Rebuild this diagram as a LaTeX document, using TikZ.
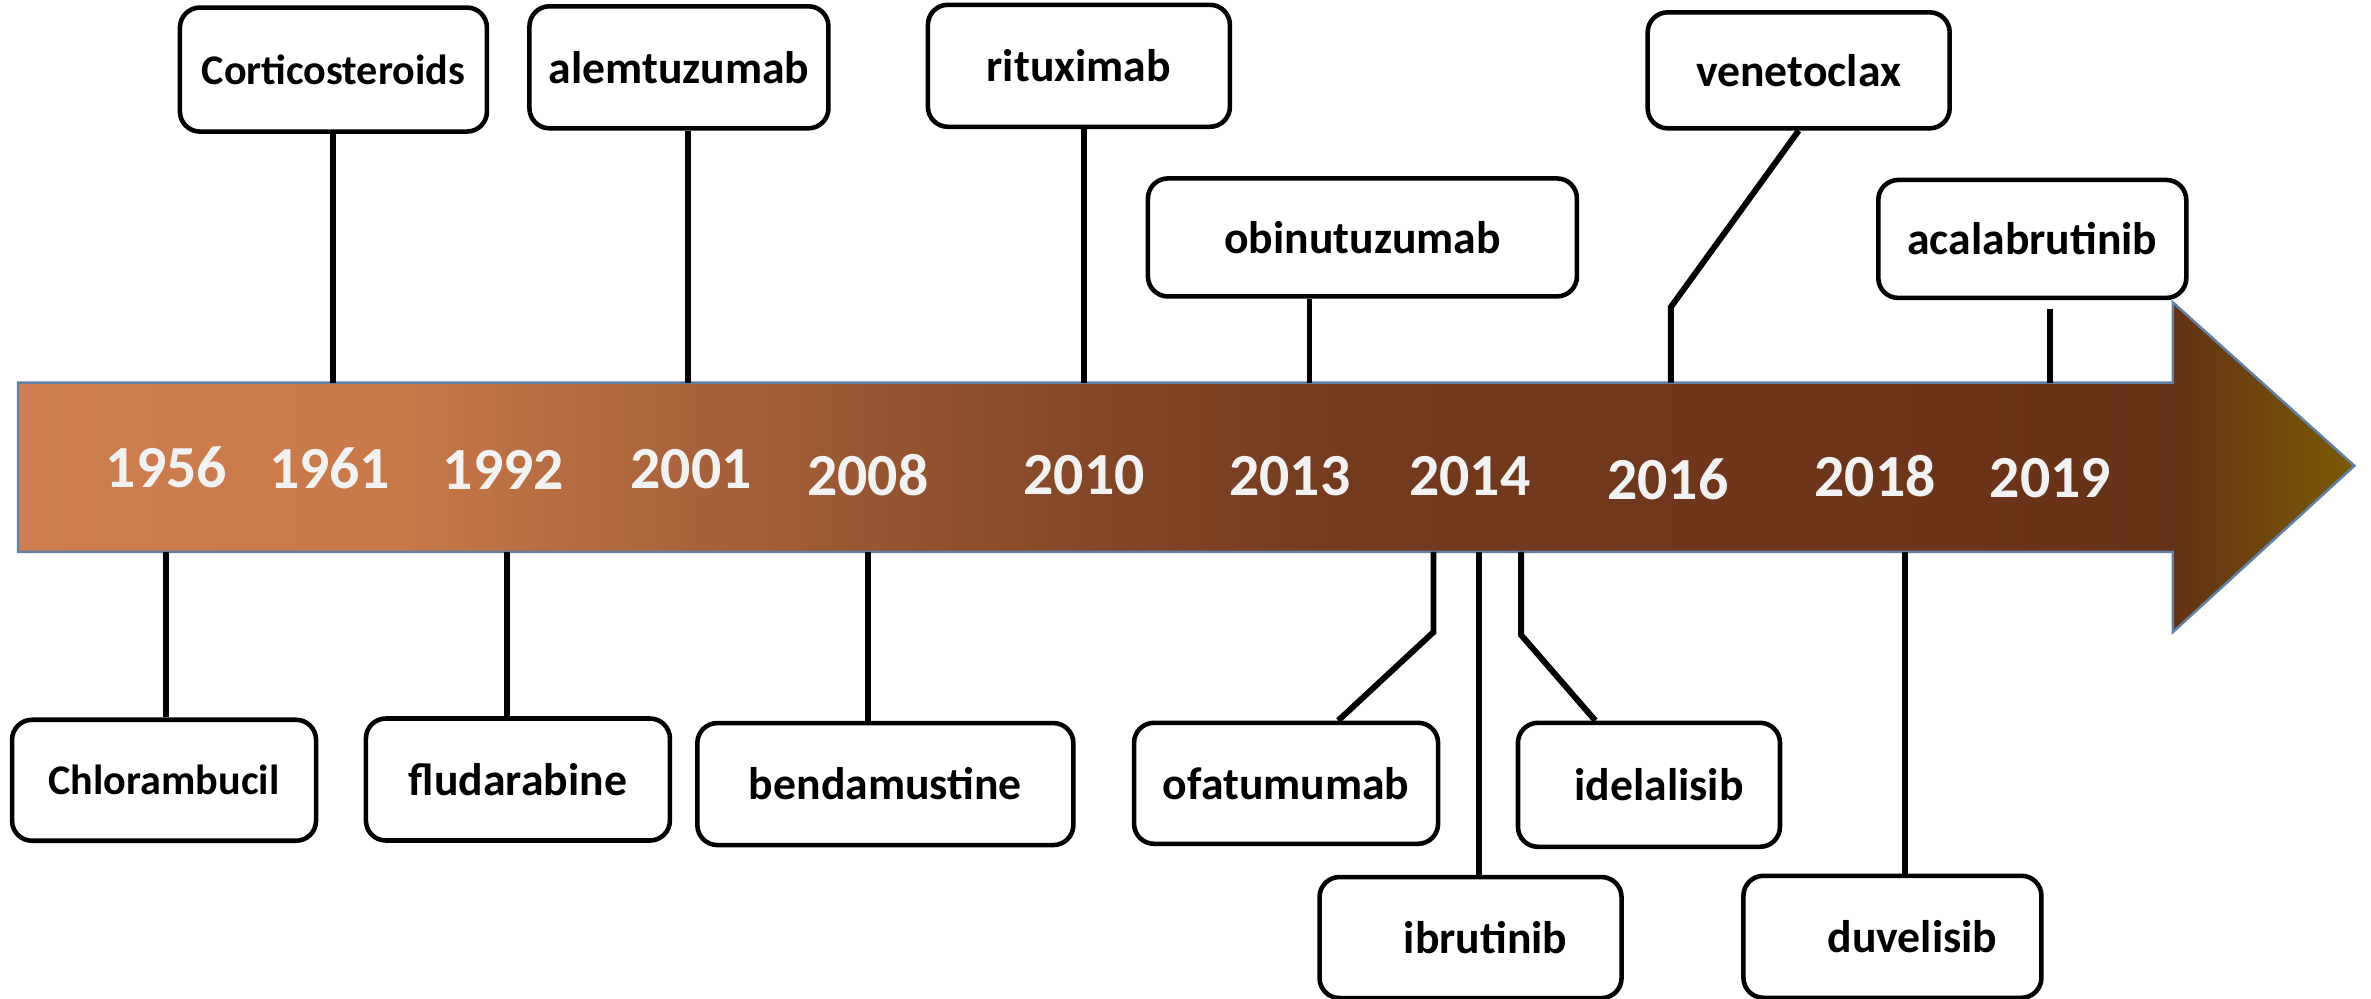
\documentclass[tikz,border=0pt]{standalone}
\usepackage{fontspec}
\setmainfont{Carlito}
\usepackage{xcolor}
\usetikzlibrary{calc}
\definecolor{yeartext}{RGB}{242,242,242}
\definecolor{arrowedge}{RGB}{96,128,168}
\pgfdeclarehorizontalshading{timeline}{100bp}{%
  rgb(0bp)=(0.808,0.494,0.306); rgb(25bp)=(0.808,0.494,0.306);
  rgb(33.3bp)=(0.780,0.475,0.290); rgb(39.4bp)=(0.659,0.384,0.227);
  rgb(47.8bp)=(0.518,0.282,0.157); rgb(53.7bp)=(0.447,0.224,0.114);
  rgb(66.7bp)=(0.424,0.204,0.098); rgb(71.1bp)=(0.392,0.196,0.086);
  rgb(75bp)=(0.478,0.353,0.020); rgb(100bp)=(0.478,0.353,0.020)}

\begin{document}
\begin{tikzpicture}[
    x=0.01512cm, y=-0.01512cm,
    drug/.style={rectangle, rounded corners=0.2cm, draw=black,
                 line width=1.3pt, fill=white,
                 minimum width=3.02cm, minimum height=1.22cm,
                 inner sep=2pt,
                 font=\bfseries\fontsize{13}{15}\selectfont},
    year/.style={text=yeartext, inner sep=0pt,
                 font=\bfseries\fontsize{17}{20}\selectfont},
    stem/.style={line width=1.7pt, black}
]
\useasboundingbox (0,0) rectangle (1568,660);

% timeline arrow
\shadedraw[shading=timeline, draw=arrowedge, line width=0.7pt]
    (12,253) -- (1437,253) -- (1437,200) -- (1557,308)
    -- (1437,418) -- (1437,365) -- (12,365) -- cycle;

% years
\node (y1956) [year] at (110,309)  {1956};
\node (y1961) [year] at (218,310)  {1961};
\node (y1992) [year] at (333,311)  {1992};
\node (y2001) [year] at (457,310)  {2001};
\node (y2008) [year] at (574,314)  {2008};
\node (y2010) [year] at (717,314)  {2010};
\node (y2013) [year] at (853,315)  {2013};
\node (y2014) [year] at (972,315)  {2014};
\node (y2016) [year] at (1103,317) {2016};
\node (y2018) [year] at (1240,315) {2018};
\node (y2019) [year] at (1356,316) {2019};

% points on the arrow edges
\coordinate (t61) at (220,253);
\coordinate (t01) at (455,253);
\coordinate (t10) at (717,253);
\coordinate (t13) at (866,253);
\coordinate (t16) at (1105,253);
\coordinate (t19) at (1356,253);
\coordinate (b56) at (110,365);
\coordinate (b92) at (335,365);
\coordinate (b08) at (574,365);
\coordinate (b14o) at (948,365);
\coordinate (b14i) at (978,365);
\coordinate (b14d) at (1006,365);
\coordinate (b18) at (1260,365);

% drugs above
\node (cort) [drug, minimum width=3.07cm, minimum height=1.24cm,
              font=\bfseries\fontsize{12}{14}\selectfont]
              at (220.5,46)  {Corticosteroids};
\node (alem) [drug, minimum width=2.99cm] at (449,44.5)   {alemtuzumab};
\node (ritu) [drug]                       at (713.5,43.5) {rituximab};
\node (obin) [drug, minimum width=4.29cm,
              minimum height=1.18cm]      at (901,157)    {obinutuzumab};
\node (vene) [drug, minimum height=1.16cm] at (1189.5,46.5) {venetoclax};
\node (acal) [drug, minimum width=3.08cm,
              minimum height=1.18cm]      at (1344,158)   {acalabrutinib};

% drugs below
\node (chlo) [drug, minimum width=3.04cm, minimum height=1.21cm,
              font=\bfseries\fontsize{12}{14}\selectfont]
              at (108.5,516) {Chlorambucil};
\node (flud) [drug, minimum width=3.04cm] at (342.5,515.5) {fludarabine};
\node (bend) [drug, minimum width=3.76cm] at (585.5,518.5) {bendamustine};
\node (ofat) [drug, minimum width=3.04cm,
              minimum height=1.21cm]      at (850.5,518)   {ofatumumab};
\node (ibru) [drug, minimum height=1.21cm] at (972.5,620)  {\hspace*{0.3cm}ibrutinib};
\node (idel) [drug, minimum width=2.62cm,
              minimum height=1.24cm]      at (1090.5,519)  {\hspace*{0.2cm}idelalisib};
\node (duve) [drug, minimum width=2.98cm] at (1251.5,619.5) {\hspace*{0.4cm}duvelisib};

% stems above
\draw [stem] (cort.south -| t61) -- (t61);
\draw [stem] (alem.south -| t01) -- (t01);
\draw [stem] (ritu.south -| t10) -- (t10);
\draw [stem] (obin.south -| t13) -- (t13);
\draw [stem] (vene.south) -- ($(t16)+(0,-50)$) -- (t16);
\draw [stem, shorten <=0.09cm] (acal.south -| t19) -- (t19);

% stems below
\draw [stem] (b56) -- (chlo.north -| b56);
\draw [stem] (b92) -- (flud.north -| b92);
\draw [stem] (b08) -- (bend.north -| b08);
\draw [stem] (b14o) -- ++(0,53) -- ($(ofat.north)+(34.5,0)$);
\draw [stem] (b14i) -- (ibru.north -| b14i);
\draw [stem] (b14d) -- ++(0,55) -- ($(idel.north)+(-35.5,0)$);
\draw [stem] (b18) -- (duve.north -| b18);
\end{tikzpicture}
\end{document}
